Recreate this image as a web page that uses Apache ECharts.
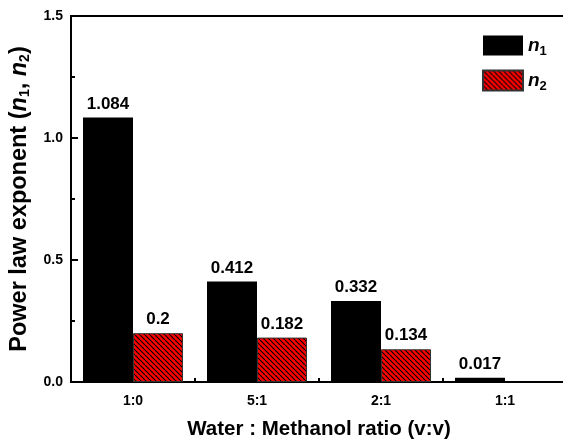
<!DOCTYPE html>
<html>
<head>
<meta charset="utf-8">
<script src="https://cdn.jsdelivr.net/npm/echarts@6/dist/echarts.min.js"></script>
<style>
html,body{margin:0;padding:0;background:#fff;}
#chart{width:563px;height:441px;}
</style>
</head>
<body>
<div id="chart"></div>
<script>
const categories = ['1:0', '5:1', '2:1', '1:1'];
const n1Values = [1.084, 0.412, 0.332, 0.017];
const n2Values = [0.2, 0.182, 0.134, null];
const seriesNames = ['n1', 'n2'];
const yTicks = [0, 0.5, 1.0, 1.5];

const FONT = 'Arial, "Liberation Sans", sans-serif';

// hatch pattern
const pc = document.createElement('canvas');
pc.width = 5; pc.height = 5;
const px = pc.getContext('2d');
px.fillStyle = '#ff0000';
px.fillRect(0, 0, 5, 5);
px.strokeStyle = '#000';
px.lineWidth = 1.1;
px.beginPath();
for (let k = -10; k <= 10; k += 5) {
  px.moveTo(k, 0);
  px.lineTo(k + 5, 5);
}
px.stroke();

const chart = echarts.init(document.getElementById('chart'), null, {renderer: 'canvas'});

const labelStyle = {
  show: true,
  position: 'top',
  distance: 5,
  color: '#000',
  fontWeight: 'bold',
  fontSize: 17,
  fontFamily: FONT,
  formatter: p => String(p.value)
};

chart.setOption({
  backgroundColor: '#fff',
  animation: false,
  grid: {
    left: 71, right: -4, top: 16, bottom: 59,
    outerBoundsMode: 'none',
    containLabel: false,
    show: true, borderColor: '#000', borderWidth: 2,
    backgroundColor: 'transparent'
  },
  legend: {
    orient: 'vertical',
    left: 482, top: 33,
    padding: 0,
    itemWidth: 40, itemHeight: 20, itemGap: 10,
    icon: 'rect',
    data: seriesNames,
    formatter: name => '{i|n}{s|' + name.slice(1) + '}',
    textStyle: {
      color: '#000',
      rich: {
        i: {fontFamily: FONT, fontWeight: 'bold', fontStyle: 'italic', fontSize: 19, lineHeight: 20, color: '#000'},
        s: {fontFamily: FONT, fontWeight: 'bold', fontSize: 13, lineHeight: 20, padding: [12, 0, 0, 0], color: '#000'}
      }
    }
  },
  xAxis: {
    type: 'category',
    data: categories,
    name: 'Water : Methanol ratio (v:v)',
    nameLocation: 'middle',
    nameGap: 37,
    nameTextStyle: {fontFamily: FONT, fontWeight: 'bold', fontSize: 20.5, color: '#000'},
    axisLine: {lineStyle: {color: '#000', width: 2}},
    axisTick: {show: true, inside: true, length: 4, lineStyle: {color: '#000', width: 2}},
    axisLabel: {margin: 12, fontFamily: FONT, fontWeight: 'bold', fontSize: 14, color: '#000'}
  },
  yAxis: {
    type: 'value',
    min: yTicks[0], max: yTicks[yTicks.length - 1], interval: 0.5,
    name: '{t|Power law exponent (}{i|n}{s|1}{t|, }{i|n}{s|2}{t|)}',
    nameLocation: 'middle',
    nameGap: 38,
    nameRotate: 90,
    nameTextStyle: {
      rich: {
        t: {fontFamily: FONT, fontWeight: 'bold', fontSize: 23.5, color: '#000', lineHeight: 24},
        i: {fontFamily: FONT, fontWeight: 'bold', fontStyle: 'italic', fontSize: 23.5, color: '#000', lineHeight: 24},
        s: {fontFamily: FONT, fontWeight: 'bold', fontSize: 14, color: '#000', lineHeight: 24, padding: [13, 0, 0, 0]}
      }
    },
    splitLine: {show: false},
    axisLine: {show: true, lineStyle: {color: '#000', width: 2}},
    axisTick: {show: true, inside: true, length: 7, lineStyle: {color: '#000', width: 2}},
    minorTick: {show: true, splitNumber: 2, length: 4, lineStyle: {color: '#000', width: 2}},
    axisLabel: {
      margin: 8, fontFamily: FONT, fontWeight: 'bold', fontSize: 14, color: '#000',
      formatter: v => v.toFixed(1)
    }
  },
  series: [
    {
      name: seriesNames[0], type: 'bar', data: n1Values,
      barWidth: 50, barGap: '0%',
      itemStyle: {color: '#000'},
      label: labelStyle
    },
    {
      name: seriesNames[1], type: 'bar', data: n2Values,
      barWidth: 50, barGap: '0%',
      itemStyle: {color: {image: pc, repeat: 'repeat'}, borderColor: '#333', borderWidth: 1},
      label: labelStyle
    }
  ]
});
</script>
</body>
</html>
